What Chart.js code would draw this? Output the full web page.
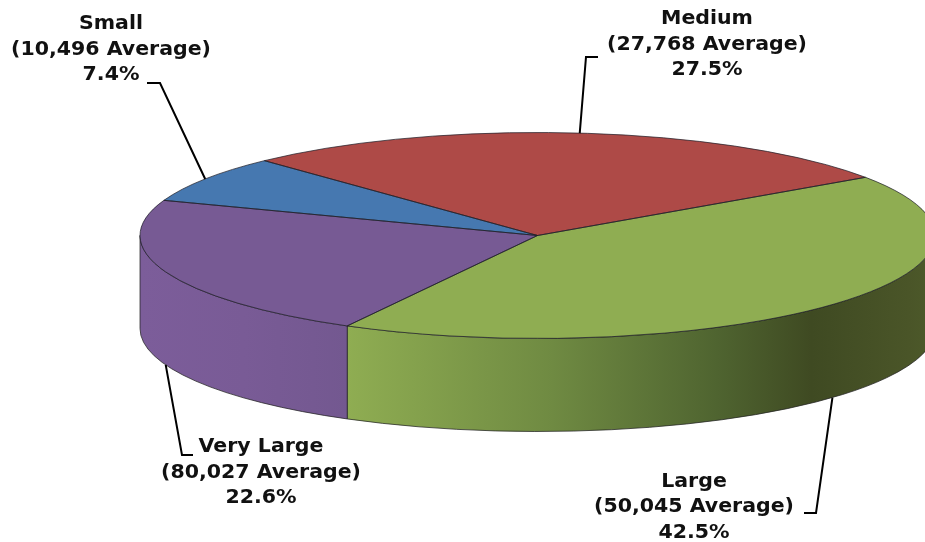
<!DOCTYPE html>
<html>
<head>
<meta charset="utf-8">
<style>html,body{margin:0;padding:0;background:#fff}canvas{display:block}</style>
<script src="https://cdn.jsdelivr.net/npm/chart.js@4"></script>
</head>
<body>
<canvas id="c" width="925" height="542"></canvas>
<script>
const categories = ['Large', 'Very Large', 'Small', 'Medium'];
const shares = [42.5, 22.6, 7.4, 27.5];
const averages = [50045, 80027, 10496, 27768];
const topColors = ['#8fad52', '#775a94', '#4678b0', '#ae4a47'];

const wallStops = [
  [[0, '#8fad52'], [0.35, '#6f8a42'], [0.63, '#4f6430'], [0.79, '#3f4a22'], [0.955, '#4a5528'], [1, '#4d5a2a']],
  [[0, '#7c5d9a'], [0.5, '#795b96'], [1, '#735890']],
  [[0, '#4678b0'], [1, '#4678b0']],
  [[0, '#ae4a47'], [1, '#ae4a47']]
];
const disc = { cx: 537.5, cy: 235.5, rx: 397.5, ry: 103, depth: 93 };
const startDegrees = 55.6;
const font = 'bold 19.3px "DejaVu Sans"';
const textStretch = 1.063;
const lineGap = 25.7;
const labelBoxes = [
  { x: 694, y: 481.5, elbow: [[804, 513], [816, 513]] },
  { x: 261, y: 447,   elbow: [[193, 455], [182, 455]] },
  { x: 111, y: 24,    elbow: [[147, 83], [160, 83]] },
  { x: 707, y: 19,    elbow: [[598, 57], [586, 57]] }
];

const TAU = Math.PI * 2;
function norm(a) { a %= TAU; return a < 0 ? a + TAU : a; }
function arcsOf(chart) { return chart.getDatasetMeta(0).data; }
function span(el) {
  const s = norm(el.startAngle);
  return [s, s + (el.endAngle - el.startAngle)];
}
function wallRange(el) {
  const [s, e] = span(el);
  const ranges = [[s, e], [s - TAU, e - TAU]];
  for (const [a, b] of ranges) {
    const lo = Math.max(a, 0), hi = Math.min(b, Math.PI);
    if (hi > lo) return [lo, hi];
  }
  return null;
}

const pie3d = {
  id: 'pie3d',
  beforeDatasetsDraw(chart) {
    const ctx = chart.ctx, { cx, cy, rx, ry, depth } = disc;
    arcsOf(chart).forEach((el, i) => {
      const r = wallRange(el);
      if (!r) return;
      const x0 = cx + rx * Math.cos(r[0]), x1 = cx + rx * Math.cos(r[1]);
      const g = ctx.createLinearGradient(Math.min(x0, x1), 0, Math.max(x0, x1), 0);
      wallStops[i].forEach(s => g.addColorStop(s[0], s[1]));
      ctx.save();
      ctx.beginPath();
      ctx.ellipse(cx, cy, rx, ry, 0, r[0], r[1]);
      ctx.ellipse(cx, cy + depth, rx, ry, 0, r[1], r[0], true);
      ctx.closePath();
      ctx.fillStyle = g;
      ctx.fill();
      ctx.strokeStyle = 'rgba(35,35,35,0.75)';
      ctx.lineWidth = 1;
      ctx.stroke();
      ctx.restore();
    });
    const first = arcsOf(chart)[0];
    ctx.save();
    ctx.translate(cx, cy);
    ctx.scale(rx / first.outerRadius, ry / first.outerRadius);
    ctx.translate(-first.x, -first.y);
  },
  afterDatasetsDraw(chart) {
    const ctx = chart.ctx, { cx, cy, rx, ry, depth } = disc;
    ctx.restore();
    ctx.save();
    arcsOf(chart).forEach(el => {
      ctx.beginPath();
      ctx.moveTo(cx, cy);
      ctx.ellipse(cx, cy, rx, ry, 0, el.startAngle, el.endAngle);
      ctx.closePath();
      ctx.strokeStyle = 'rgba(30,30,40,0.72)';
      ctx.lineWidth = 1;
      ctx.stroke();
    });
    ctx.restore();

    ctx.save();
    arcsOf(chart).forEach((el, i) => {
      const mid = (el.startAngle + el.endAngle) / 2;
      const front = Math.sin(mid) > 0;
      const ax = cx + rx * Math.cos(mid);
      const ay = cy + ry * Math.sin(mid) + (front ? depth : 0);
      const box = labelBoxes[i];
      ctx.beginPath();
      ctx.moveTo(box.elbow[0][0], box.elbow[0][1]);
      ctx.lineTo(box.elbow[1][0], box.elbow[1][1]);
      ctx.lineTo(ax, ay);
      ctx.strokeStyle = '#000';
      ctx.lineWidth = 2;
      ctx.stroke();

      ctx.fillStyle = '#111';
      ctx.font = font;
      ctx.textAlign = 'center';
      ctx.textBaseline = 'middle';
      const lines = [
        categories[i],
        '(' + averages[i].toLocaleString('en-US') + ' Average)',
        shares[i].toFixed(1) + '%'
      ];
      lines.forEach((t, k) => {
        ctx.save();
        ctx.translate(box.x, box.y + k * lineGap);
        ctx.scale(textStretch, 1);
        ctx.fillText(t, 0, 0);
        ctx.restore();
      });
    });
    ctx.restore();
  }
};

new Chart(document.getElementById('c'), {
  type: 'pie',
  data: {
    labels: categories,
    datasets: [{
      data: shares,
      backgroundColor: topColors,
      borderWidth: 0,
      hoverOffset: 0,
      clip: false
    }]
  },
  options: {
    responsive: false,
    animation: false,
    rotation: startDegrees,
    layout: { padding: 0 },
    events: [],
    plugins: { legend: { display: false }, tooltip: { enabled: false } }
  },
  plugins: [pie3d]
});
</script>
</body>
</html>
